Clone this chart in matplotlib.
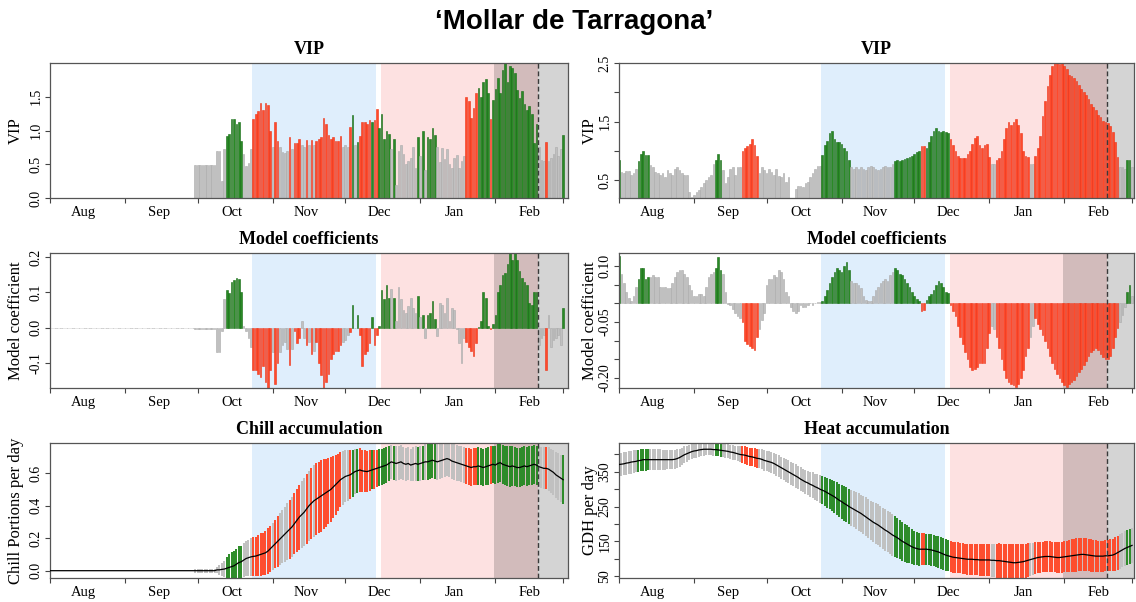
import numpy as np
import matplotlib
matplotlib.use("Agg")
import matplotlib.pyplot as plt

plt.rcParams["font.family"] = ["Liberation Serif", "DejaVu Serif"]

# days are counted from 1 August (day 0) to 1 March (day 212)
month_starts = [0, 31, 61, 92, 122, 153, 184, 212]
month_mids = [14, 45, 75, 106, 136, 167, 198]
month_names = ["Aug", "Sep", "Oct", "Nov", "Dec", "Jan", "Feb"]

chill_phase = (83.5, 134.7)
heat_phase = (136.7, 201.8)
bloom_start = 183.5
bloom_mean = 201.8

# ---------------- chill model (left column) ----------------
chill_vip = [0.0] * 60 + [
    0.49,
    # Oct
    0.49, 0.49, 0.49, 0.49, 0.49, 0.49, 0.49, 0.49, 0.69, 0.69,
    0.25, 0.72, 0.92, 0.95, 1.17, 1.17, 1.10, 1.12, 0.85, 0.65,
    0.48, 0.52, 0.72, 1.17, 1.25, 1.29, 1.41, 1.31, 1.41, 1.38, 1.00,
    # Nov
    0.75, 1.12, 0.85, 0.75, 0.68, 0.66, 0.70, 0.90, 0.72, 0.82,
    0.82, 0.88, 0.78, 0.76, 0.86, 0.78, 0.86, 0.78, 0.85, 0.87,
    0.90, 1.19, 1.10, 0.94, 0.87, 0.90, 0.85, 0.84, 0.92, 0.75,
    # Dec
    0.78, 0.76, 1.05, 1.23, 0.78, 0.83, 0.92, 1.12, 1.12, 1.10,
    1.15, 1.12, 1.15, 1.32, 1.04, 1.24, 0.88, 1.00, 0.95, 0.72,
    0.87, 0.19, 0.70, 0.78, 0.65, 0.50, 0.55, 0.60, 0.75, 0.45, 0.91,
    # Jan
    0.62, 0.99, 0.42, 0.90, 0.87, 1.03, 0.93, 0.75, 0.53, 0.74,
    0.58, 0.72, 0.50, 0.45, 0.60, 0.63, 0.45, 0.55, 0.62, 1.50,
    1.44, 1.18, 1.33, 1.55, 1.63, 1.50, 1.72, 1.77, 1.55, 1.17, 1.45,
    # Feb
    1.62, 1.78, 1.55, 1.90, 2.00, 1.72, 1.95, 1.92, 1.85, 1.60,
    1.48, 1.58, 1.40, 1.30, 1.37, 1.25, 0.82, 1.10, 0.75, 0.57,
    0.55, 0.83, 0.55, 0.60, 0.65, 0.75, 0.62, 0.72,
    # 1 Mar
    0.93,
]

chill_coef = [0.0] * 60 + [
    -0.003,
    -0.003, -0.003, -0.003, -0.003, -0.003, -0.003, -0.003, -0.004, -0.07, -0.07,
    -0.01, 0.08, 0.105, 0.098, 0.13, 0.135, 0.14, 0.138, 0.10, 0.005,
    -0.01, -0.03, -0.055, -0.12, -0.12, -0.13, -0.14, -0.11, -0.155, -0.17, -0.12,
    -0.07, -0.16, -0.10, -0.07, -0.05, -0.04, -0.06, -0.105, -0.06, -0.01,
    -0.045, -0.03, 0.02, -0.03, -0.05, -0.04, -0.075, -0.065, -0.04, -0.10,
    -0.135, -0.18, -0.155, -0.13, -0.09, -0.075, -0.065, -0.065, -0.05, -0.04,
    -0.035, -0.02, -0.012, 0.065, 0.0, 0.035, -0.02, -0.11, -0.075, -0.065,
    -0.045, 0.03, -0.05, -0.02, 0.005, 0.105, 0.08, 0.12, 0.085, 0.11,
    0.085, 0.02, 0.115, 0.08, 0.05, 0.04, 0.06, 0.085, 0.055, 0.04, 0.09,
    0.03, 0.035, -0.03, 0.035, 0.04, 0.075, 0.025, -0.025, 0.07, 0.065,
    0.04, 0.085, 0.02, 0.055, 0.05, -0.005, -0.045, -0.10, -0.03, -0.04,
    -0.055, -0.065, -0.08, -0.045, 0.003, 0.02, 0.10, 0.085, 0.005, -0.005, 0.01,
    0.035, 0.10, 0.12, 0.15, 0.155, 0.18, 0.21, 0.19, 0.21, 0.19,
    0.16, 0.14, 0.13, 0.12, 0.07, 0.065, 0.10, 0.10, -0.05, -0.03,
    -0.02, -0.12, 0.035, -0.055, -0.035, -0.03, -0.02, -0.05,
    0.055,
]

# chill portions per day: mean and standard deviation
chill_mean = [0.0] * 60 + [
    0.0,
    0.0, 0.0, 0.0, 0.0, 0.0, 0.0, 0.0, 0.0, 0.005, 0.005,
    0.008, 0.01, 0.015, 0.02, 0.025, 0.03, 0.04, 0.05, 0.055, 0.065,
    0.075, 0.08, 0.085, 0.088, 0.09, 0.095, 0.10, 0.105, 0.11, 0.12, 0.135,
    0.15, 0.165, 0.18, 0.195, 0.21, 0.225, 0.24, 0.255, 0.27, 0.29,
    0.31, 0.33, 0.345, 0.36, 0.38, 0.40, 0.415, 0.43, 0.44, 0.45,
    0.46, 0.47, 0.48, 0.49, 0.50, 0.515, 0.53, 0.545, 0.56, 0.57,
    0.58, 0.585, 0.59, 0.60, 0.61, 0.615, 0.62, 0.615, 0.612, 0.61,
    0.615, 0.62, 0.625, 0.63, 0.635, 0.64, 0.645, 0.65, 0.66, 0.67,
    0.665, 0.66, 0.665, 0.67, 0.66, 0.655, 0.66, 0.65, 0.655, 0.66, 0.655,
    0.66, 0.665, 0.67, 0.67, 0.675, 0.68, 0.675, 0.67, 0.675, 0.68,
    0.685, 0.69, 0.685, 0.675, 0.67, 0.665, 0.66, 0.655, 0.65, 0.645,
    0.64, 0.635, 0.64, 0.64, 0.645, 0.64, 0.635, 0.64, 0.645, 0.65, 0.655,
    0.65, 0.66, 0.665, 0.655, 0.65, 0.645, 0.64, 0.645, 0.64, 0.635,
    0.635, 0.64, 0.645, 0.64, 0.645, 0.65, 0.655, 0.65, 0.64, 0.635,
    0.63, 0.63, 0.625, 0.615, 0.605, 0.59, 0.58, 0.57,
    0.56,
]

chill_sd = [0.0] * 60 + [
    0.012,
    0.012, 0.012, 0.012, 0.012, 0.012, 0.012, 0.012, 0.012, 0.02, 0.03,
    0.04, 0.05, 0.07, 0.08, 0.09, 0.09, 0.095, 0.10, 0.10, 0.105,
    0.11, 0.11, 0.115, 0.12, 0.12, 0.125, 0.13, 0.13, 0.135, 0.14, 0.14,
    0.145, 0.15, 0.155, 0.16, 0.165, 0.17, 0.175, 0.18, 0.185, 0.19,
    0.195, 0.20, 0.205, 0.21, 0.215, 0.215, 0.22, 0.22, 0.22, 0.22,
    0.22, 0.215, 0.21, 0.205, 0.20, 0.19, 0.185, 0.175, 0.17, 0.165,
    0.16, 0.155, 0.15, 0.145, 0.14, 0.135, 0.135, 0.13, 0.13, 0.125,
    0.125, 0.12, 0.12, 0.115, 0.115, 0.11, 0.11, 0.11, 0.105, 0.105,
    0.105, 0.105, 0.105, 0.105, 0.10, 0.10, 0.10, 0.10, 0.105, 0.105, 0.105,
    0.105, 0.105, 0.11, 0.11, 0.11, 0.11, 0.11, 0.11, 0.11, 0.11,
    0.11, 0.11, 0.11, 0.11, 0.11, 0.11, 0.11, 0.11, 0.11, 0.11,
    0.115, 0.115, 0.115, 0.115, 0.115, 0.115, 0.115, 0.115, 0.115, 0.115, 0.115,
    0.115, 0.12, 0.12, 0.12, 0.12, 0.125, 0.125, 0.125, 0.12, 0.12,
    0.12, 0.12, 0.12, 0.12, 0.12, 0.12, 0.12, 0.12, 0.125, 0.125,
    0.13, 0.13, 0.135, 0.135, 0.14, 0.14, 0.145, 0.145,
    0.15,
]

# ---------------- heat model (right column) ----------------
heat_vip = [
    # Aug
    0.85, 0.65, 0.62, 0.66, 0.66, 0.60, 0.62, 0.70, 0.83, 0.95,
    1.00, 0.93, 0.93, 0.77, 0.72, 0.65, 0.62, 0.60, 0.62, 0.55,
    0.68, 0.63, 0.60, 0.70, 0.72, 0.68, 0.62, 0.60, 0.60, 0.30, 0.22,
    # Sep
    0.25, 0.30, 0.33, 0.38, 0.45, 0.50, 0.55, 0.60, 0.78, 0.85,
    0.95, 0.85, 0.68, 0.45, 0.55, 0.70, 0.72, 0.60, 0.72, 0.72,
    1.00, 1.05, 1.08, 1.12, 1.20, 1.10, 0.92, 0.62, 0.72, 0.68,
    # Oct
    0.62, 0.70, 0.65, 0.60, 0.70, 0.58, 0.55, 0.62, 0.48, 0.55,
    0.20, 0.20, 0.35, 0.40, 0.40, 0.38, 0.45, 0.48, 0.55, 0.62,
    0.70, 0.75, 0.75, 0.93, 1.10, 1.17, 1.30, 1.35, 1.20, 1.15, 1.15,
    # Nov
    1.12, 1.05, 1.00, 0.85, 0.72, 0.70, 0.72, 0.70, 0.72, 0.70,
    0.68, 0.72, 0.74, 0.72, 0.70, 0.68, 0.70, 0.72, 0.75, 0.72,
    0.72, 0.78, 0.83, 0.85, 0.83, 0.85, 0.86, 0.88, 0.90, 0.92,
    # Dec
    0.95, 0.98, 1.00, 1.08, 1.08, 1.05, 1.15, 1.25, 1.35, 1.40,
    1.35, 1.33, 1.35, 1.33, 1.30, 1.20, 1.10, 1.00, 0.92, 0.88,
    0.88, 0.88, 0.95, 1.00, 1.12, 1.22, 1.25, 1.10, 1.05, 1.10, 1.12,
    # Jan
    0.90, 0.78, 0.78, 0.85, 0.88, 1.00, 1.20, 1.40, 1.50, 1.45,
    1.50, 1.55, 1.45, 1.30, 1.00, 0.92, 0.90, 0.78, 0.78, 0.92,
    1.05, 1.25, 1.60, 1.85, 2.10, 2.30, 2.45, 2.50, 2.50, 2.48, 2.50,
    # Feb
    2.45, 2.40, 2.30, 2.28, 2.25, 2.20, 2.12, 2.05, 2.00, 1.95,
    1.88, 1.80, 1.75, 1.70, 1.62, 1.58, 1.52, 1.50, 1.47, 1.42,
    1.32, 1.15, 0.90, 0.72, 0.72, 0.70, 0.85, 0.85,
    # 1 Mar
    0.72,
]

heat_coef = [
    0.126, 0.08, 0.055, 0.03, 0.015, 0.005, 0.02, 0.045, 0.065, 0.095,
    0.095, 0.065, 0.07, 0.07, 0.075, 0.07, 0.07, 0.045, 0.045, 0.045,
    0.04, 0.04, 0.055, 0.07, 0.085, 0.09, 0.09, 0.08, 0.07, 0.05, 0.035,
    0.02, 0.02, 0.025, 0.025, 0.02, 0.045, 0.07, 0.08, 0.085, 0.095,
    0.125, 0.09, 0.08, 0.03, -0.002, -0.005, -0.015, -0.025, -0.035, -0.04,
    -0.05, -0.10, -0.11, -0.115, -0.12, -0.125, -0.09, -0.07, -0.045, -0.025,
    0.05, 0.065, 0.065, 0.075, 0.07, 0.09, 0.085, 0.065, 0.03, 0.02,
    -0.01, -0.02, -0.025, -0.02, -0.005, -0.01, -0.01, -0.005, 0.0, -0.005,
    0.0, 0.003, 0.003, 0.005, 0.02, 0.035, 0.055, 0.07, 0.085, 0.095, 0.09,
    0.085, 0.10, 0.11, 0.09, 0.06, 0.055, 0.055, 0.05, 0.04, 0.02,
    0.01, 0.005, 0.005, 0.02, 0.035, 0.045, 0.055, 0.06, 0.065, 0.06,
    0.075, 0.085, 0.095, 0.09, 0.08, 0.075, 0.065, 0.055, 0.045, 0.03,
    0.02, 0.012, 0.005, -0.02, -0.018, 0.01, 0.02, 0.025, 0.035, 0.05,
    0.06, 0.055, 0.045, 0.03, 0.028, -0.005, -0.02, -0.035, -0.06, -0.09,
    -0.11, -0.13, -0.15, -0.17, -0.18, -0.175, -0.17, -0.16, -0.16, -0.16, -0.12,
    -0.08, -0.06, -0.07, -0.09, -0.12, -0.15, -0.18, -0.20, -0.21, -0.215,
    -0.22, -0.225, -0.215, -0.20, -0.18, -0.14, -0.12, -0.09, -0.06, -0.04,
    -0.055, -0.07, -0.085, -0.10, -0.12, -0.14, -0.16, -0.175, -0.19, -0.20, -0.21,
    -0.22, -0.225, -0.215, -0.21, -0.205, -0.195, -0.185, -0.175, -0.165, -0.155,
    -0.14, -0.13, -0.125, -0.12, -0.125, -0.135, -0.145, -0.15, -0.15, -0.14,
    -0.12, -0.09, -0.065, -0.05, -0.03, -0.01, 0.03, 0.05,
    0.02,
]

# growing degree hours per day: mean and standard deviation
heat_mean = [
    371, 372, 373, 375, 376, 378, 379, 380, 382, 383,
    385, 385, 385, 385, 385, 385, 385, 385, 385, 385,
    385, 385, 385, 386, 388, 391, 395, 399, 402, 405, 408,
    410, 411, 413, 414, 415, 415, 415, 415, 414, 414,
    413, 412, 411, 410, 409, 407, 406, 404, 402, 400,
    399, 398, 396, 394, 393, 391, 389, 388, 386, 383,
    381, 379, 377, 374, 370, 366, 362, 358, 354, 350,
    346, 342, 338, 334, 329, 325, 321, 318, 314, 311,
    307, 304, 300, 297, 294, 290, 286, 282, 278, 273, 268,
    264, 259, 255, 250, 246, 242, 238, 234, 230, 225,
    220, 215, 210, 205, 201, 197, 192, 187, 182, 178,
    173, 168, 164, 160, 155, 150, 146, 142, 138, 134,
    131, 129, 127, 127, 127, 127, 126, 125, 123, 121,
    119, 116, 113, 110, 108, 106, 104, 103, 102, 101,
    100, 99, 98, 98, 98, 97, 97, 96, 96, 96, 96,
    96, 95, 95, 94, 94, 93, 92, 91, 90, 89,
    88, 88, 89, 90, 91, 93, 95, 97, 99, 101,
    103, 104, 105, 106, 106, 106, 105, 104, 103, 103, 104,
    105, 106, 107, 108, 109, 110, 111, 112, 112, 111,
    110, 109, 108, 107, 107, 107, 107, 108, 108, 109,
    110, 113, 117, 121, 125, 129, 132, 135,
    138,
]

heat_sd = [
    33, 33, 33, 33, 33, 33, 33, 32, 32, 32,
    32, 32, 31, 31, 30, 30, 30, 30, 29, 29,
    28, 28, 28, 28, 27, 26, 25, 24, 23, 22, 21,
    20, 20, 19, 19, 19, 18, 18, 18, 18, 18,
    18, 19, 19, 19, 20, 20, 21, 21, 22, 23,
    24, 25, 26, 26, 27, 27, 28, 28, 29, 30,
    30, 30, 31, 31, 31, 32, 32, 32, 33, 33,
    33, 33, 34, 34, 34, 34, 35, 35, 36, 37,
    38, 39, 40, 41, 42, 43, 44, 45, 46, 47, 48,
    49, 50, 50, 51, 52, 52, 53, 54, 54, 55,
    56, 56, 57, 58, 58, 59, 59, 60, 60, 60,
    60, 60, 59, 58, 57, 56, 55, 54, 52, 50,
    49, 48, 47, 46, 46, 45, 45, 45, 45, 45,
    45, 45, 45, 45, 45, 45, 45, 45, 45, 44,
    44, 44, 44, 44, 44, 44, 45, 45, 45, 46, 46,
    47, 48, 48, 49, 50, 50, 51, 52, 52, 53,
    53, 54, 53, 52, 51, 50, 49, 48, 47, 46,
    45, 45, 44, 44, 44, 44, 44, 44, 44, 45, 45,
    45, 46, 46, 47, 47, 48, 48, 48, 48, 48,
    47, 47, 46, 46, 45, 45, 45, 45, 45, 46,
    47, 48, 49, 50, 50, 50, 50, 50,
    50,
]

GREEN, GREEN_EDGE = "#2a8a26", "#146a12"
RED, RED_EDGE = "#ff4a2b", "#ec3216"
GREY, GREY_EDGE = "#c0c0c0", "#a9a9a9"
CHILL_BG = "#dfeefc"
HEAT_BG = "#fde1e1"

days = np.arange(len(heat_vip))


def importance_colours(vip, coef):
    vip, coef = np.asarray(vip), np.asarray(coef)
    important = vip > 0.8
    face = np.where(important, np.where(coef > 0, GREEN, RED), GREY)
    edge = np.where(important, np.where(coef > 0, GREEN_EDGE, RED_EDGE), GREY_EDGE)
    return face, edge


W, H = 1136, 602
fig = plt.figure(figsize=(W / 100, H / 100), dpi=100)

cols = [(50, 568, 214.0), (619, 1134, 212.8)]
rows = [(63, 198), (253, 388), (443, 578)]


def make_axes(col, row):
    left, right, xmax = cols[col]
    top, bottom = rows[row]
    ax = fig.add_axes([left / W, 1 - bottom / H, (right - left) / W, (bottom - top) / H])
    ax.set_xlim(0, xmax)
    # phase shading and bloom window
    ax.axvspan(*chill_phase, color=CHILL_BG, lw=0, zorder=0)
    ax.axvspan(*heat_phase, color=HEAT_BG, lw=0, zorder=0)
    ax.axvspan(bloom_start, xmax, color="black", alpha=0.17, lw=0, zorder=0.5)
    ax.axvline(bloom_mean, color="#3a3a3a", lw=1.0, ls=(0, (3.5, 2)), zorder=4)
    # month boundaries as ticks, month names in between
    ax.set_xticks(month_starts)
    ax.set_xticklabels([])
    ax.set_xticks(month_mids, minor=True)
    ax.set_xticklabels(month_names, minor=True, fontsize=10.5)
    ax.tick_params(axis="x", which="major", length=3.5, width=0.8, color="#444")
    ax.tick_params(axis="x", which="minor", length=0, pad=6)
    ax.tick_params(axis="y", length=3.5, width=0.8, color="#444", pad=2, labelsize=10)
    for s in ax.spines.values():
        s.set_color("#555555")
        s.set_linewidth(0.9)
    return ax


def set_yaxis(ax, ticks, labels, ylim, ylabel, col):
    ax.set_ylim(*ylim)
    ax.set_yticks(ticks)
    ax.set_yticklabels(labels, rotation=90, va="center")
    ax.set_ylabel(ylabel, fontsize=12)
    width = cols[col][1] - cols[col][0]
    ax.yaxis.set_label_coords(-(26 if col == 0 else 21) / width, 0.5)


def title(ax, text):
    ax.set_title(text, fontsize=13, fontweight="bold", pad=6.5)


panels = [
    (chill_vip, chill_coef, chill_mean, chill_sd, "Chill accumulation",
     "Chill Portions per day"),
    (heat_vip, heat_coef, heat_mean, heat_sd, "Heat accumulation", "GDH per day"),
]

for col, (vip, coef, mean, sd, acc_title, acc_label) in enumerate(panels):
    face, edge = importance_colours(vip, coef)
    mean, sd = np.asarray(mean, float), np.asarray(sd, float)

    ax = make_axes(col, 0)
    ax.bar(days, vip, width=0.7, color=face, edgecolor=edge, linewidth=0.4, zorder=2)
    title(ax, "VIP")
    if col == 0:
        set_yaxis(ax, [0, 0.5, 1.0, 1.5], ["0.0", "0.5", "1.0", "1.5"], (0, 2.0), "VIP", col)
    else:
        set_yaxis(ax, [0.5, 1.0, 1.5, 2.0, 2.5], ["0.5", "", "1.5", "", "2.5"],
                  (0.2, 2.5), "VIP", col)

    ax = make_axes(col, 1)
    ax.bar(days, coef, width=0.7, color=face, edgecolor=edge, linewidth=0.4, zorder=2)
    title(ax, "Model coefficients")
    if col == 0:
        set_yaxis(ax, [-0.1, 0.0, 0.1, 0.2], ["-0.1", "0.0", "0.1", "0.2"],
                  (-0.171, 0.211), "Model coefficient", col)
    else:
        set_yaxis(ax, [-0.20, -0.15, -0.10, -0.05, 0.0, 0.05, 0.10],
                  ["-0.20", "", "", "-0.05", "", "", "0.10"],
                  (-0.227, 0.135), "Model coefficient", col)

    ax = make_axes(col, 2)
    ax.vlines(days, mean - sd, mean + sd, colors=face, linewidth=1.4, zorder=2)
    ax.plot(days, mean, color="black", lw=0.9, zorder=3)
    title(ax, acc_title)
    if col == 0:
        set_yaxis(ax, [0.0, 0.2, 0.4, 0.6], ["0.0", "0.2", "0.4", "0.6"],
                  (-0.045, 0.786), acc_label, col)
    else:
        set_yaxis(ax, [50, 100, 150, 200, 250, 300, 350, 400],
                  ["50", "", "150", "", "250", "", "350", ""],
                  (44, 433), acc_label, col)

fig.text(574 / W, 1 - 22 / H, "\u2018Mollar de Tarragona\u2019", ha="center", va="center",
         fontsize=20, fontweight="bold", family=["Liberation Sans", "DejaVu Sans"])

fig.savefig("out.png", dpi=100)
